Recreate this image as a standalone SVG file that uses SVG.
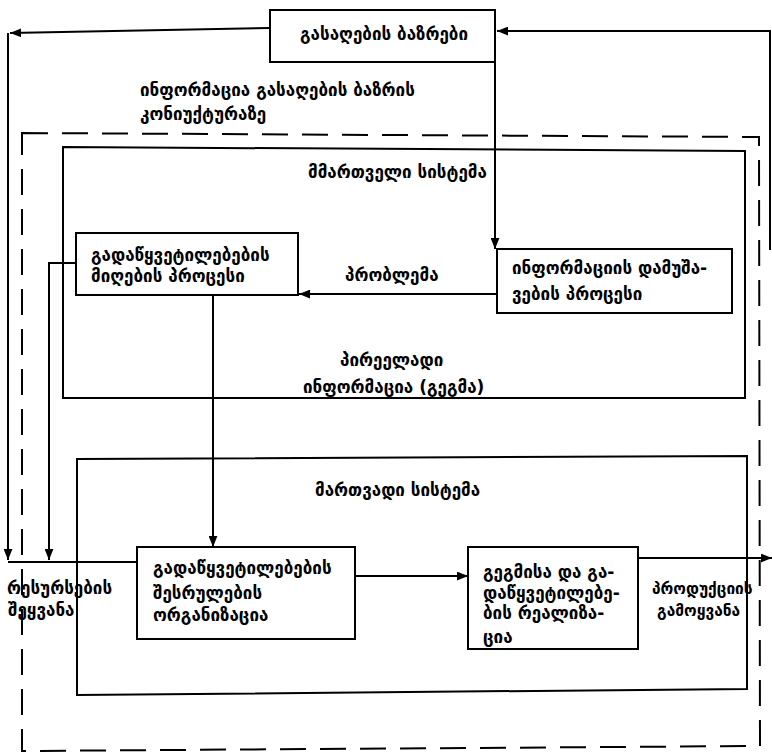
<svg xmlns="http://www.w3.org/2000/svg" width="772" height="755" viewBox="0 0 772 755">
<style>
text{font-family:"DejaVu Sans","Noto Sans",sans-serif;font-size:17px;font-weight:bold;fill:#000}
text.s{font-size:15.5px}
.box{fill:#fff;stroke:#000;stroke-width:2}
.frame{fill:none;stroke:#000;stroke-width:2}
.dash{fill:none;stroke:#000;stroke-width:2;stroke-dasharray:26 14}
.c{fill:none;stroke:#000;stroke-width:2}
</style>
<defs>
<marker id="ah" viewBox="0 0 10 8" refX="10" refY="4" markerWidth="11" markerHeight="9" markerUnits="userSpaceOnUse" orient="auto">
<path d="M0,0 L10,4 L0,8 Z" fill="#000"/>
</marker>
</defs>
<rect width="772" height="755" fill="#fff"/>
<g id="outer-boundary">
<path class="dash" d="M22,133 L759,137 L760,746 L22,751 Z"/>
<text x="140" y="96">ინფორმაცია გასაღების ბაზრის</text>
<text x="140" y="120">კონიუქტურაზე</text>
</g>
<g id="managing-system">
<path class="frame" d="M63,147 L745,151 L745,398 L63,398 Z"/>
<text x="308" y="178">მმართველი სისტემა</text>
<text x="340" y="366">პირეელადი</text>
<text x="303" y="393">ინფორმაცია (გეგმა)</text>
</g>
<g id="managed-system">
<path class="frame" d="M77,459 L747,456 L747,689 L77,695 Z"/>
<text x="315" y="496">მართვადი სისტემა</text>
</g>
<g id="markets">
<rect class="box" x="270" y="10" width="225" height="52"/>
<text x="384" y="40" text-anchor="middle">გასაღების ბაზრები</text>
</g>
<g id="decision-making">
<rect class="box" x="76" y="233" width="222" height="62"/>
<text x="91" y="261">გადაწყვეტილებების</text>
<text x="91" y="282">მიღების პროცესი</text>
</g>
<g id="info-processing">
<rect class="box" x="497" y="249" width="235" height="64"/>
<text x="512" y="274">ინფორმაციის დამუშა-</text>
<text x="512" y="300">ვების პროცესი</text>
</g>
<g id="execution-organization">
<rect class="box" x="137" y="547" width="218" height="92"/>
<text x="153" y="574">გადაწყვეტილებების</text>
<text x="153" y="599">შესრულების</text>
<text x="153" y="621">ორგანიზაცია</text>
</g>
<g id="realization">
<rect class="box" x="468" y="547" width="170" height="102"/>
<text x="483" y="578">გეგმისა და გა-</text>
<text x="483" y="599">დაწყვეტილებე-</text>
<text x="483" y="619">ბის რეალიზა-</text>
<text x="483" y="643">ცია</text>
</g>
<g id="connectors">
<path class="c" d="M270,28 L10,33" marker-end="url(#ah)"/>
<path class="c" d="M8,33 V560" marker-end="url(#ah)"/>
<path class="c" d="M770,250 V31 H497" marker-end="url(#ah)"/>
<path class="c" d="M495,62 V249" marker-end="url(#ah)"/>
<path class="c" d="M497,294 H299" marker-end="url(#ah)"/>
<path class="c" d="M76,263 H49 V560" marker-end="url(#ah)"/>
<path class="c" d="M213,295 V547" marker-end="url(#ah)"/>
<path class="c" d="M8,562 H137"/>
<path class="c" d="M355,576 H468" marker-end="url(#ah)"/>
<path class="c" d="M638,558 H772" marker-end="url(#ah)"/>
<text x="345" y="281">პრობლემა</text>
<text x="7" y="594">რესურსების</text>
<text x="8" y="616">შეყვანა</text>
<text class="s" x="652" y="594">პროდუქციის</text>
<text class="s" x="657" y="616">გამოყვანა</text>
</g>
</svg>
